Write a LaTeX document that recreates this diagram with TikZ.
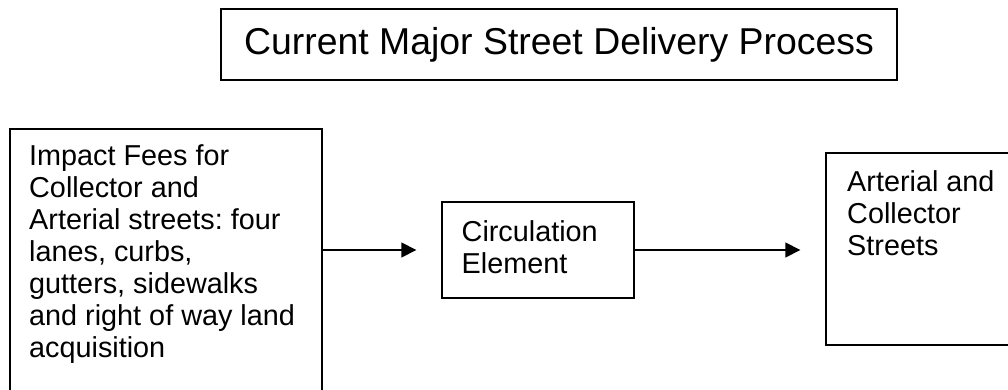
\documentclass[tikz,border=0pt]{standalone}
\usepackage{fontspec}
\setmainfont{Liberation Sans}
\usetikzlibrary{arrows.meta}
\frenchspacing
\tikzset{
  box/.style={draw=black, line width=2pt, rectangle, inner sep=0pt, anchor=north west},
  lbl/.style={anchor=base west, inner sep=0pt, font=\fontsize{28.8pt}{32pt}\selectfont},
  flow/.style={draw=black, line width=1.6pt, -{Triangle[length=15pt,width=15pt]}, shorten >=24.7pt}
}
\begin{document}
\begin{tikzpicture}[x=1pt,y=-1pt]
\useasboundingbox (0,0) rectangle (1008,390);
\clip (0,0) rectangle (1008,390);
% title
\node[box, anchor=center, minimum width=676pt, minimum height=71pt,
      font=\fontsize{37.4pt}{43pt}\selectfont] (title) at (559,44.5)
      {Current Major Street Delivery Process};
% boxes
\node[box, minimum width=312pt, minimum height=280pt] (impact) at (9,128) {};
\node[box, minimum width=192pt, minimum height=96pt] (circ) at (441,201) {};
\node[box, minimum width=200pt, minimum height=192pt] (art) at (825,152) {};
% texts
\node[lbl] (impacttxt) at (29,165.5) {\begin{tabular}[t]{@{}l@{}}Impact Fees for\\Collector and\\Arterial streets: four\\lanes, curbs,\\gutters, sidewalks\\and right of way land\\acquisition\end{tabular}};
\node[lbl] (circtxt) at (461.5,241) {\begin{tabular}[t]{@{}l@{}}Circulation\\Element\end{tabular}};
\node[lbl] (arttxt) at (847,191) {\begin{tabular}[t]{@{}l@{}}Arterial and\\Collector\\Streets\end{tabular}};
% connectors
\draw[flow] (impact.east |- circ.west) -- (circ.west);
\draw[flow] (circ.east) -- (art.west |- circ.east);
\end{tikzpicture}
\end{document}
